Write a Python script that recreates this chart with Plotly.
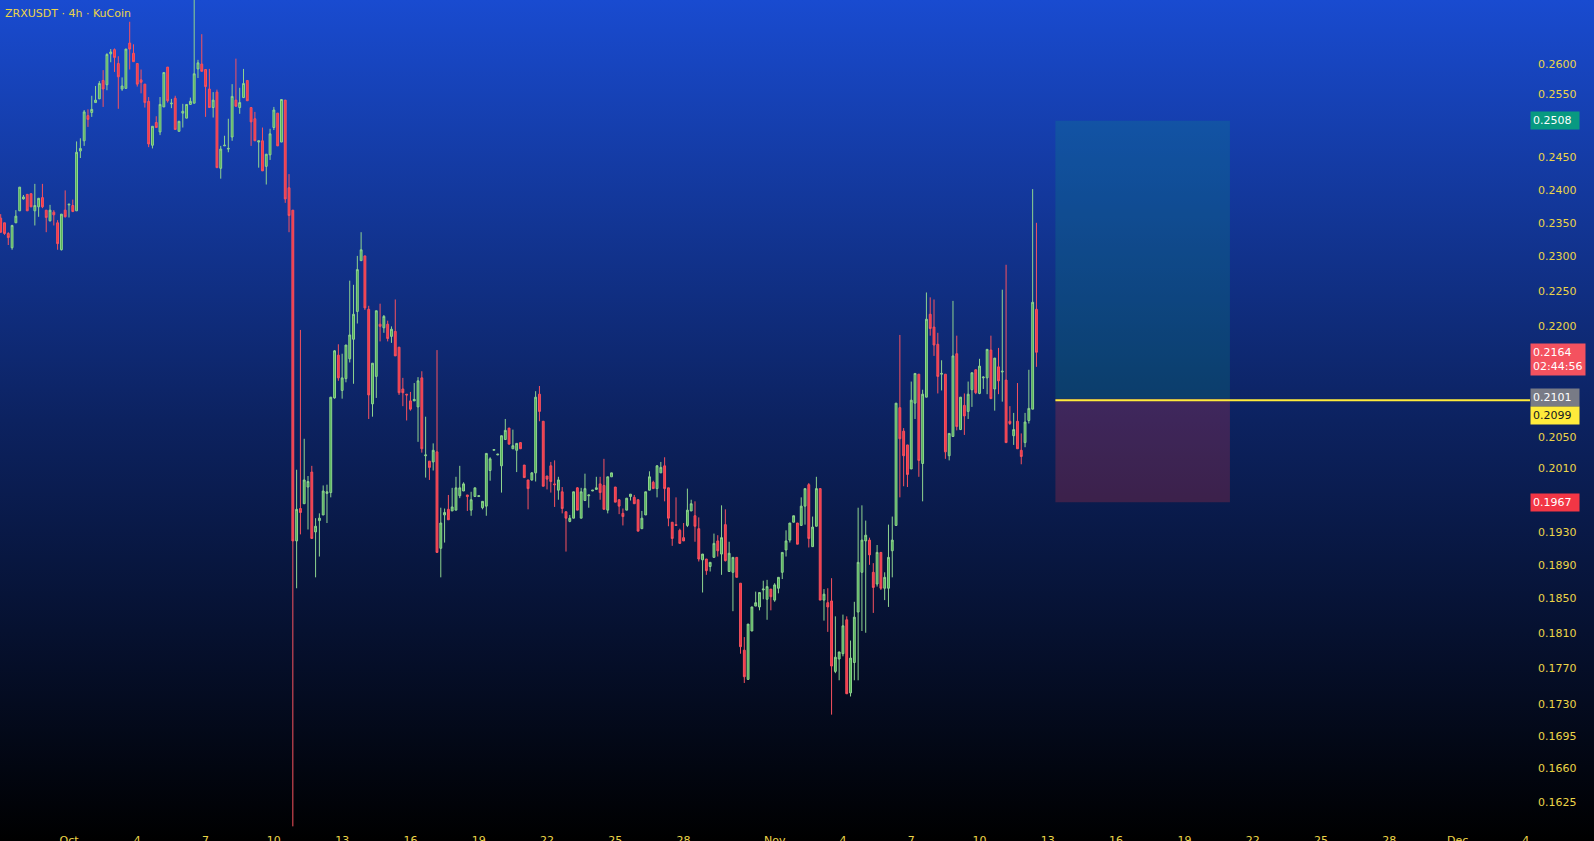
import base64
import math
import pandas as pd
import plotly.graph_objects as go

# ---------------- data (ZRXUSDT 4h, KuCoin) ----------------
start_time = "2025-09-28 00:00"

opens = [
0.2357,0.2350,0.2334,0.2313,0.2350,0.2368,0.2386,0.2393,0.2394,0.2368,
0.2374,0.2388,0.2369,0.2353,0.2366,0.2350,0.2310,0.2369,0.2377,0.2376,
0.2368,0.2460,0.2476,0.2516,0.2521,0.2537,0.2543,0.2573,0.2566,0.2617,
0.2624,0.2601,0.2559,0.2560,0.2635,0.2618,0.2601,0.2574,0.2567,0.2539,
0.2469,0.2505,0.2490,0.2530,0.2595,0.2535,0.2544,0.2491,0.2520,0.2512,
0.2534,0.2536,0.2592,0.2600,0.2591,0.2559,0.2529,0.2554,0.2433,0.2468,
0.2463,0.2482,0.2541,0.2529,0.2545,0.2573,0.2529,0.2511,0.2474,0.2476,
0.2436,0.2454,0.2497,0.2520,0.2474,0.2541,0.2403,0.2369,0.1919,0.1959,
0.1965,0.1986,0.2005,0.1930,0.1944,0.1951,0.1978,0.1979,0.2102,0.2160,
0.2112,0.2128,0.2155,0.2182,0.2221,0.2294,0.2301,0.2224,0.2094,0.2131,
0.2203,0.2198,0.2203,0.2186,0.2193,0.2171,0.2114,0.2107,0.2098,0.2098,
0.2090,0.2129,0.2026,0.2019,0.2018,0.2031,0.1910,0.1951,0.1958,0.1956,
0.1957,0.1975,0.1981,0.1976,0.1957,0.1974,0.1974,0.1960,0.1962,0.2007,
0.2033,0.2027,0.2013,0.2047,0.2062,0.2035,0.2033,0.2043,0.2014,0.1995,
0.1995,0.2004,0.2107,0.2071,0.2000,0.2013,0.1990,0.1982,0.1980,0.1955,
0.1943,0.1947,0.1985,0.1947,0.1969,0.1975,0.1981,0.1983,0.1990,0.1988,
0.1957,0.1999,0.1986,0.1970,0.1953,0.1957,0.1974,0.1973,0.1970,0.1934,
0.1951,0.1982,0.1992,0.1984,0.2004,0.2013,0.1985,0.1942,0.1939,0.1932,
0.1923,0.1938,0.1956,0.1950,0.1934,0.1896,0.1897,0.1888,0.1899,0.1919,
0.1903,0.1939,0.1882,0.1881,0.1899,0.1868,0.1790,0.1757,0.1812,0.1841,
0.1840,0.1860,0.1849,0.1861,0.1848,0.1862,0.1881,0.1908,0.1920,0.1942,
0.1941,0.1938,0.1962,0.1989,0.1912,0.1937,0.1984,0.1848,0.1845,0.1847,
0.1766,0.1780,0.1786,0.1825,0.1742,0.1776,0.1834,0.1881,0.1919,0.1920,
0.1881,0.1867,0.1905,0.1862,0.1862,0.1907,0.1938,0.2089,0.2058,0.2040,
0.2009,0.2095,0.2134,0.2016,0.2103,0.2217,0.2199,0.2175,0.2134,0.2134,
0.2026,0.2051,0.2162,0.2060,0.2092,0.2084,0.2113,0.2140,0.2108,0.2129,
0.2129,0.2167,0.2114,0.2144,0.2137,0.2126,0.2071,0.2052,0.2071,0.2033,
0.2043,0.2072,0.2087,0.2224,
]

highs = [
0.2363,0.2350,0.2336,0.2347,0.2369,0.2404,0.2392,0.2393,0.2394,0.2409,
0.2387,0.2409,0.2369,0.2377,0.2369,0.2354,0.2363,0.2399,0.2378,0.2385,
0.2475,0.2480,0.2525,0.2526,0.2548,0.2564,0.2572,0.2590,0.2618,0.2625,
0.2626,0.2613,0.2578,0.2625,0.2671,0.2633,0.2601,0.2591,0.2567,0.2546,
0.2499,0.2515,0.2546,0.2586,0.2595,0.2543,0.2548,0.2507,0.2535,0.2534,
0.2545,0.2712,0.2607,0.2650,0.2591,0.2592,0.2554,0.2558,0.2468,0.2484,
0.2511,0.2567,0.2609,0.2561,0.2592,0.2573,0.2529,0.2522,0.2476,0.2497,
0.2455,0.2495,0.2530,0.2520,0.2542,0.2541,0.2424,0.2369,0.2008,0.2195,
0.2048,0.2000,0.2013,0.1947,0.1953,0.1988,0.1989,0.2103,0.2167,0.2175,
0.2162,0.2174,0.2265,0.2259,0.2301,0.2336,0.2301,0.2229,0.2149,0.2222,
0.2232,0.2216,0.2208,0.2200,0.2238,0.2171,0.2129,0.2107,0.2110,0.2122,
0.2130,0.2138,0.2077,0.2019,0.2042,0.2167,0.1960,0.1959,0.1976,0.1985,
0.1999,0.2013,0.1992,0.1976,0.1980,0.1985,0.1975,0.1968,0.2029,0.2024,
0.2034,0.2028,0.2052,0.2074,0.2062,0.2060,0.2042,0.2043,0.2014,0.1995,
0.2005,0.2111,0.2118,0.2071,0.2000,0.2018,0.2020,0.1999,0.1986,0.1955,
0.1951,0.1980,0.1986,0.1985,0.2003,0.1976,0.1982,0.1999,0.1999,0.2022,
0.1999,0.2004,0.1986,0.1970,0.1959,0.1972,0.1977,0.1976,0.1970,0.1956,
0.1980,0.2006,0.1994,0.2014,0.2018,0.2024,0.1985,0.1942,0.1973,0.1934,
0.1941,0.1984,0.1970,0.1968,0.1948,0.1903,0.1897,0.1893,0.1928,0.1926,
0.1963,0.1958,0.1918,0.1899,0.1899,0.1868,0.1805,0.1820,0.1840,0.1858,
0.1857,0.1871,0.1872,0.1861,0.1868,0.1875,0.1905,0.1932,0.1941,0.1950,
0.1941,0.1973,0.1984,0.1991,0.1949,0.1999,0.1984,0.1861,0.1862,0.1874,
0.1829,0.1788,0.1831,0.1829,0.1801,0.1846,0.1960,0.1963,0.1944,0.1923,
0.1892,0.1914,0.1905,0.1881,0.1939,0.1949,0.2095,0.2188,0.2062,0.2040,
0.2124,0.2135,0.2134,0.2113,0.2248,0.2241,0.2238,0.2191,0.2153,0.2134,
0.2055,0.2236,0.2187,0.2103,0.2108,0.2124,0.2136,0.2140,0.2155,0.2131,
0.2168,0.2187,0.2156,0.2170,0.2252,0.2288,0.2091,0.2082,0.2122,0.2055,
0.2082,0.2140,0.2401,0.2350,
]

lows = [
0.2335,0.2332,0.2317,0.2310,0.2350,0.2368,0.2385,0.2368,0.2374,0.2346,
0.2359,0.2372,0.2336,0.2352,0.2346,0.2310,0.2309,0.2358,0.2358,0.2366,
0.2368,0.2449,0.2468,0.2498,0.2514,0.2537,0.2543,0.2530,0.2557,0.2603,
0.2587,0.2527,0.2556,0.2560,0.2591,0.2604,0.2563,0.2552,0.2529,0.2466,
0.2464,0.2497,0.2485,0.2530,0.2537,0.2528,0.2494,0.2491,0.2497,0.2512,
0.2534,0.2536,0.2577,0.2588,0.2514,0.2529,0.2513,0.2434,0.2417,0.2468,
0.2458,0.2476,0.2531,0.2519,0.2545,0.2540,0.2468,0.2476,0.2434,0.2429,
0.2408,0.2446,0.2493,0.2468,0.2474,0.2380,0.2336,0.1600,0.1862,0.1927,
0.1965,0.1933,0.1922,0.1875,0.1900,0.1951,0.1941,0.1973,0.2101,0.2125,
0.2101,0.2123,0.2150,0.2121,0.2204,0.2294,0.2223,0.2074,0.2077,0.2102,
0.2179,0.2191,0.2179,0.2177,0.2159,0.2106,0.2091,0.2072,0.2085,0.2098,
0.2044,0.2030,0.1998,0.1995,0.2007,0.1905,0.1875,0.1917,0.1945,0.1956,
0.1957,0.1972,0.1981,0.1956,0.1950,0.1974,0.1974,0.1958,0.1950,0.1994,
0.2033,0.2027,0.1979,0.2047,0.2041,0.2035,0.2005,0.2035,0.1998,0.1958,
0.1994,0.1993,0.2071,0.1987,0.1983,0.1979,0.1961,0.1970,0.1953,0.1906,
0.1942,0.1947,0.1957,0.1947,0.1969,0.1960,0.1981,0.1983,0.1970,0.1958,
0.1953,0.1999,0.1967,0.1952,0.1938,0.1957,0.1969,0.1965,0.1931,0.1934,
0.1951,0.1982,0.1984,0.1973,0.2004,0.1968,0.1937,0.1913,0.1938,0.1916,
0.1919,0.1936,0.1956,0.1918,0.1894,0.1857,0.1878,0.1882,0.1899,0.1900,
0.1878,0.1894,0.1882,0.1835,0.1875,0.1786,0.1753,0.1757,0.1812,0.1841,
0.1836,0.1849,0.1825,0.1836,0.1846,0.1856,0.1873,0.1900,0.1917,0.1942,
0.1915,0.1938,0.1939,0.1911,0.1912,0.1937,0.1848,0.1824,0.1811,0.1718,
0.1764,0.1756,0.1783,0.1741,0.1738,0.1756,0.1756,0.1812,0.1810,0.1890,
0.1833,0.1864,0.1860,0.1848,0.1840,0.1875,0.1938,0.1973,0.1987,0.1986,
0.2009,0.2074,0.1999,0.1968,0.2103,0.2187,0.2159,0.2108,0.2112,0.2022,
0.2020,0.2051,0.2059,0.2060,0.2053,0.2074,0.2090,0.2107,0.2107,0.2114,
0.2107,0.2101,0.2085,0.2107,0.2097,0.2043,0.2066,0.2040,0.2035,0.2015,
0.2037,0.2068,0.2087,0.2144,
]

closes = [
0.2336,0.2334,0.2328,0.2346,0.2360,0.2404,0.2389,0.2368,0.2374,0.2376,
0.2387,0.2374,0.2358,0.2369,0.2362,0.2319,0.2363,0.2359,0.2378,0.2367,
0.2458,0.2464,0.2522,0.2510,0.2526,0.2541,0.2568,0.2559,0.2616,0.2620,
0.2611,0.2579,0.2564,0.2625,0.2625,0.2604,0.2567,0.2570,0.2537,0.2471,
0.2499,0.2497,0.2534,0.2586,0.2540,0.2536,0.2494,0.2507,0.2523,0.2534,
0.2539,0.2584,0.2602,0.2588,0.2563,0.2529,0.2541,0.2434,0.2463,0.2469,
0.2464,0.2547,0.2531,0.2537,0.2568,0.2540,0.2506,0.2476,0.2476,0.2429,
0.2455,0.2487,0.2525,0.2468,0.2542,0.2386,0.2361,0.1919,0.1958,0.1954,
0.1995,0.1993,0.1922,0.1937,0.1947,0.1981,0.1980,0.2103,0.2166,0.2129,
0.2129,0.2174,0.2188,0.2217,0.2281,0.2310,0.2226,0.2106,0.2149,0.2222,
0.2200,0.2214,0.2183,0.2196,0.2159,0.2109,0.2109,0.2106,0.2087,0.2100,
0.2125,0.2035,0.2027,0.2011,0.2033,0.1905,0.1941,0.1954,0.1945,0.1961,
0.1985,0.1985,0.1990,0.1974,0.1970,0.1985,0.1975,0.1968,0.2029,0.2022,
0.2034,0.2028,0.2052,0.2059,0.2041,0.2039,0.2042,0.2035,0.1998,0.1984,
0.2004,0.2103,0.2084,0.1987,0.1996,0.1993,0.1989,0.1995,0.1959,0.1947,
0.1947,0.1980,0.1957,0.1980,0.1984,0.1976,0.1982,0.1985,0.1979,0.1958,
0.1999,0.2004,0.1967,0.1962,0.1949,0.1972,0.1977,0.1965,0.1931,0.1947,
0.1980,0.1999,0.1984,0.2013,0.2011,0.1984,0.1947,0.1922,0.1938,0.1916,
0.1919,0.1957,0.1965,0.1937,0.1897,0.1903,0.1883,0.1893,0.1916,0.1907,
0.1923,0.1895,0.1904,0.1899,0.1875,0.1794,0.1760,0.1820,0.1840,0.1845,
0.1857,0.1861,0.1864,0.1852,0.1866,0.1875,0.1905,0.1919,0.1941,0.1950,
0.1915,0.1962,0.1984,0.1922,0.1936,0.1984,0.1848,0.1855,0.1840,0.1772,
0.1782,0.1788,0.1818,0.1741,0.1781,0.1828,0.1893,0.1920,0.1926,0.1902,
0.1863,0.1905,0.1862,0.1875,0.1899,0.1920,0.2095,0.2048,0.2026,0.2002,
0.2099,0.2135,0.2020,0.2107,0.2210,0.2197,0.2174,0.2131,0.2135,0.2031,
0.2055,0.2159,0.2064,0.2103,0.2078,0.2107,0.2136,0.2109,0.2145,0.2130,
0.2168,0.2101,0.2156,0.2125,0.2138,0.2043,0.2068,0.2060,0.2035,0.2025,
0.2070,0.2088,0.2234,0.2164,
]

# y-axis tick labels visible on the price scale
y_ticks = [0.2700, 0.2600, 0.2550, 0.2450, 0.2400, 0.2350, 0.2300, 0.2250,
           0.2200, 0.2050, 0.2010, 0.1930, 0.1890, 0.1850, 0.1810, 0.1770,
           0.1730, 0.1695, 0.1660, 0.1625]

# x-axis tick labels
x_tick_dates = ["2025-10-01", "2025-10-04", "2025-10-07", "2025-10-10", "2025-10-13",
                "2025-10-16", "2025-10-19", "2025-10-22", "2025-10-25", "2025-10-28",
                "2025-11-01", "2025-11-04", "2025-11-07", "2025-11-10", "2025-11-13",
                "2025-11-16", "2025-11-19", "2025-11-22", "2025-11-25", "2025-11-28",
                "2025-12-01", "2025-12-04"]
x_tick_text = ["Oct", "4", "7", "10", "13", "16", "19", "22", "25", "28",
               "Nov", "4", "7", "10", "13", "16", "19", "22", "25", "28",
               "Dec", "4"]

# long-position tool
entry_price = 0.2101
target_price = 0.2508
stop_price = 0.1967
alert_price = 0.2099
last_price = 0.2164
countdown = "02:44:56"
pos_start = "2025-11-13 08:00"
pos_end = "2025-11-21 00:00"
line_end = "2025-12-20 00:00"

title_text = "ZRXUSDT · 4h · KuCoin"

# ---------------- figure ----------------
times = pd.date_range(start_time, periods=len(opens), freq="4h")
highs_c = [max(h, o, c) for h, o, c in zip(highs, opens, closes)]
lows_c = [min(l, o, c) for l, o, c in zip(lows, opens, closes)]

W, H = 1594, 841
ML, MR, MT, MB = 0, 64, 0, 11
plot_w = W - ML - MR
plot_h = H - MT - MB

YELLOW = "#ecd548"
FONT = "DejaVu Sans"

fig = go.Figure()

# position tool zones (filled polygons in data space)
fig.add_trace(go.Scatter(
    x=[pos_start, pos_end, pos_end, pos_start, pos_start],
    y=[entry_price, entry_price, target_price, target_price, entry_price],
    mode="lines", line=dict(width=0, color="rgba(0,0,0,0)"), fill="toself",
    fillcolor="rgba(8,153,129,0.22)", hoverinfo="skip", showlegend=False))
fig.add_trace(go.Scatter(
    x=[pos_start, pos_end, pos_end, pos_start, pos_start],
    y=[stop_price, stop_price, entry_price, entry_price, stop_price],
    mode="lines", line=dict(width=0, color="rgba(0,0,0,0)"), fill="toself",
    fillcolor="rgba(242,54,69,0.22)", hoverinfo="skip", showlegend=False))
# yellow horizontal line
fig.add_trace(go.Scatter(
    x=[pos_start, line_end], y=[alert_price, alert_price], mode="lines",
    line=dict(color="#ffeb3b", width=2), hoverinfo="skip", showlegend=False))

fig.add_trace(go.Candlestick(
    x=times, open=opens, high=highs_c, low=lows_c, close=closes,
    increasing=dict(line=dict(color="#8fd48f", width=1), fillcolor="#4caf50"),
    decreasing=dict(line=dict(color="#f7525f", width=1), fillcolor="#f23645"),
    whiskerwidth=0, hoverinfo="skip", showlegend=False,
))

# gradient background as an inline SVG image
svg = ('<svg xmlns="http://www.w3.org/2000/svg" width="%d" height="%d" preserveAspectRatio="none">'
       '<defs><linearGradient id="g" x1="0" y1="0" x2="0" y2="1">'
       '<stop offset="0" stop-color="rgb(25,75,208)"/>'
       '<stop offset="0.5" stop-color="rgb(12,34,96)"/>'
       '<stop offset="1" stop-color="rgb(0,0,0)"/>'
       '</linearGradient></defs><rect width="%d" height="%d" fill="url(#g)"/></svg>') % (W, H, W, H)
src = "data:image/svg+xml;base64," + base64.b64encode(svg.encode()).decode()

L = math.log10
shapes = [
    # last price dotted line
    dict(type="line", xref="paper", yref="y", x0=0, x1=1,
         y0=L(last_price), y1=L(last_price), line=dict(color="#f23645", width=1, dash="dot")),
]

def price_label(price, bg, fg, yshift=0, text=None):
    return dict(xref="paper", yref="y", x=1.0, y=L(price), xanchor="left", yanchor="middle",
                text=text or f"{price:.4f}", showarrow=False, bgcolor=bg,
                font=dict(family=FONT, size=11, color=fg), width=44, align="left",
                borderpad=2, xshift=0, yshift=yshift)

annotations = [
    dict(xref="paper", yref="paper", x=0, y=1, xanchor="left", yanchor="top",
         xshift=3, yshift=-5, text=title_text, showarrow=False,
         font=dict(family=FONT, size=11, color=YELLOW)),
    price_label(target_price, "#089981", "#ffffff"),
    dict(xref="paper", yref="y", x=1.0, y=L(last_price), xanchor="left", yanchor="top",
         text=f"{last_price:.4f}<br>{countdown}", showarrow=False, bgcolor="#f4525f",
         font=dict(family=FONT, size=11, color="#ffffff"), width=50, align="left",
         borderpad=2, yshift=9),
    price_label(entry_price, "#787b86", "#ffffff", yshift=1),
    price_label(alert_price, "#ffeb3b", "#131722", yshift=-15),
    price_label(stop_price, "#f23645", "#ffffff"),
]

fig.update_layout(
    width=W, height=H,
    margin=dict(l=ML, r=MR, t=MT, b=MB, pad=0, autoexpand=False),
    paper_bgcolor="#000000", plot_bgcolor="rgba(0,0,0,0)",
    images=[dict(source=src, xref="paper", yref="paper", x=0, y=1,
                 sizex=W / plot_w, sizey=H / plot_h, xanchor="left", yanchor="top",
                 sizing="stretch", layer="below")],
    shapes=shapes, annotations=annotations,
    showlegend=False, hovermode=False,
    xaxis=dict(type="date", range=["2025-09-27 23:16", "2025-12-04 04:22"],
               rangeslider=dict(visible=False), showgrid=False, zeroline=False,
               showline=False, ticks="", tickvals=x_tick_dates, ticktext=x_tick_text,
               tickfont=dict(family=FONT, size=11, color=YELLOW), ticklabelstandoff=2,
               automargin=False, fixedrange=True),
    yaxis=dict(type="log", side="right", range=[math.log10(0.15963), math.log10(0.27083)],
               showgrid=False, zeroline=False, showline=False, ticks="",
               tickvals=y_ticks, ticktext=[f"{v:.4f}" for v in y_ticks],
               tickfont=dict(family=FONT, size=11, color=YELLOW), ticklabelstandoff=7,
               automargin=False, fixedrange=True),
)

fig.write_html("out.html", config={"displayModeBar": False},
               post_script="document.body.style.margin='0';")
